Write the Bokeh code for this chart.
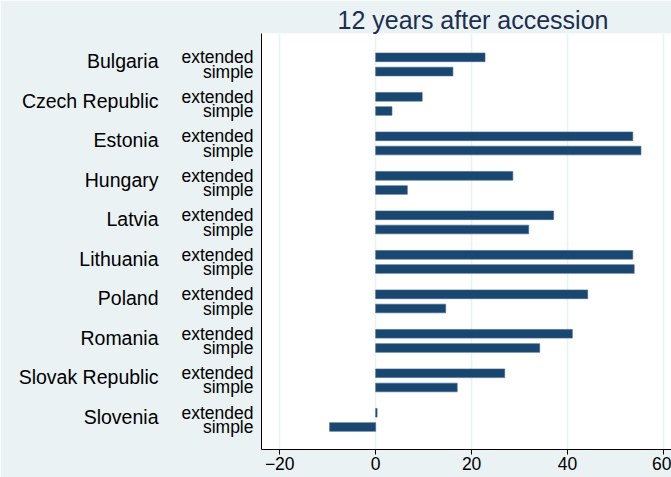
from bokeh.plotting import figure
from bokeh.models import Range1d, FixedTicker, LinearAxis
from bokeh.embed import file_html
from bokeh.resources import INLINE

countries = ["Bulgaria", "Czech Republic", "Estonia", "Hungary", "Latvia",
             "Lithuania", "Poland", "Romania", "Slovak Republic", "Slovenia"]
extended = [22.8, 9.7, 53.6, 28.6, 37.1, 53.6, 44.2, 41.0, 26.9, 0.3]
simple = [16.1, 3.4, 55.3, 6.6, 31.9, 53.9, 14.6, 34.2, 17.0, -9.6]
series_labels = ["extended", "simple"]
x_ticks = [-20, 0, 20, 40, 60]
title_text = "12 years after accession"

# layout units: group spacing 100, simple bar offset 36
GAP = 100
SUB = 36
ext_y = [i * GAP for i in range(len(countries))]
sim_y = [i * GAP + SUB for i in range(len(countries))]
country_y = [i * GAP + 10 for i in range(len(countries))]

FONT = "Liberation Sans"
BAR = "#1a476f"
BG = "#eaf2f3"

p = figure(width=671, height=477, output_backend="svg", toolbar_location=None,
           x_range=Range1d(-23.8, 61.67), y_range=Range1d(993, -60.3),
           min_border_left=261, min_border_right=0, min_border_top=33,
           min_border_bottom=28)
p.background_fill_color = "white"
p.border_fill_color = BG
p.outline_line_color = None

p.title.text = title_text
p.title.text_font = FONT
p.title.text_font_size = "25px"
p.title.text_font_style = "normal"
p.title.text_color = "#1c2e4f"
p.title.align = "left"
p.title.offset = 76
p.title.standoff = 0

p.hbar(y=ext_y, right=extended, left=0, height=22, fill_color=BAR,
       line_color="#3f6690", line_width=0.6)
p.hbar(y=sim_y, right=simple, left=0, height=22, fill_color=BAR,
       line_color="#3f6690", line_width=0.6)

# x axis
xa = p.xaxis[0]
xa.ticker = FixedTicker(ticks=x_ticks)
xa.minor_tick_line_color = None
xa.major_tick_in = 0
xa.major_tick_out = 5
xa.major_tick_line_color = "#000000"
xa.axis_line_color = "#000000"
xa.major_label_text_font = FONT
xa.major_label_text_font_size = "17.5px"
xa.major_label_text_color = "#000000"
xa.major_label_standoff = 2

p.xgrid.grid_line_color = BG
p.xgrid.grid_line_width = 1.6
p.ygrid.visible = False

# inner y axis: series labels
ya = p.yaxis[0]
inner_ticks = []
inner_over = {}
for i in range(len(countries)):
    inner_ticks += [ext_y[i], sim_y[i]]
    inner_over[ext_y[i]] = series_labels[0]
    inner_over[sim_y[i]] = series_labels[1]
ya.ticker = FixedTicker(ticks=inner_ticks)
ya.major_label_overrides = inner_over
ya.minor_tick_line_color = None
ya.major_tick_line_color = None
ya.major_tick_in = 0
ya.major_tick_out = 0
ya.axis_line_color = "#000000"
ya.major_label_text_font = FONT
ya.major_label_text_font_size = "17.5px"
ya.major_label_text_color = "#000000"
ya.major_label_standoff = 8

# outer y axis: country names
oa = LinearAxis(ticker=FixedTicker(ticks=country_y),
                major_label_overrides={country_y[i]: countries[i] for i in range(len(countries))})
oa.minor_tick_line_color = None
oa.major_tick_line_color = None
oa.major_tick_in = 0
oa.major_tick_out = 0
oa.axis_line_color = None
oa.major_label_text_font = FONT
oa.major_label_text_font_size = "19.5px"
oa.major_label_text_color = "#000000"
oa.major_label_standoff = 20
p.add_layout(oa, "left")

open("out.html", "w").write(file_html(p, INLINE))
